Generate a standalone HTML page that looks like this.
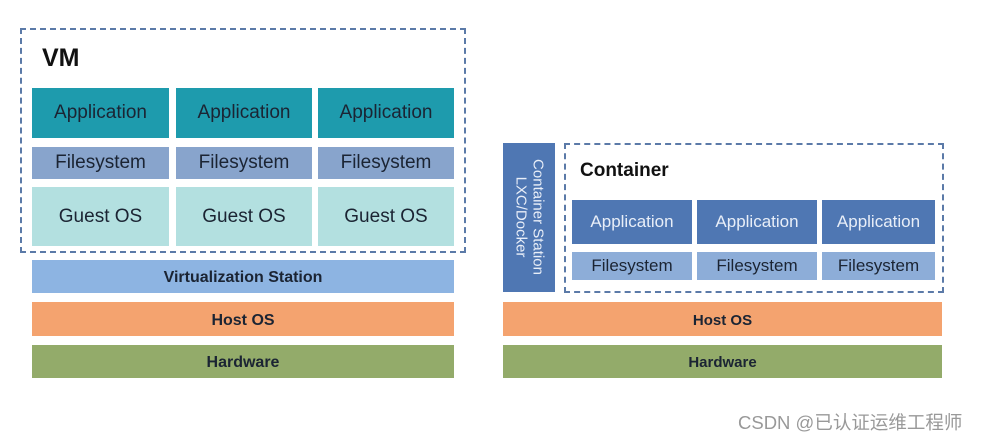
<!DOCTYPE html>
<html><head><meta charset="utf-8"><style>
body{margin:0;width:984px;height:439px;background:#fff;position:relative;overflow:hidden;font-family:"Liberation Sans","Noto Sans CJK SC",sans-serif}
.b{position:absolute;display:flex;align-items:center;justify-content:center;color:#1b2433;box-sizing:border-box}
.dash{position:absolute;border:2px dashed #5b7aa8;box-sizing:border-box}
.app{background:#1e9bad;font-size:19px}
.fs{background:#88a4cc;font-size:19px}
.g{background:#b3e0e0;font-size:19px}
.capp{background:#4f77b3;color:#e8eef8;font-size:17px}
.cfs{background:#8dadd8;font-size:17px}
.bold{font-weight:bold;font-size:16px}
</style></head><body>
<div class="dash" style="left:20px;top:28px;width:446px;height:225px"></div>
<div style="position:absolute;left:42px;top:44px;font-size:25px;font-weight:bold;color:#111">VM</div>
<div class="b app" style="left:32px;top:88px;width:137px;height:50px">Application</div>
<div class="b app" style="left:176px;top:88px;width:136px;height:50px">Application</div>
<div class="b app" style="left:318px;top:88px;width:136px;height:50px">Application</div>
<div class="b fs" style="left:32px;top:147px;width:137px;height:32px">Filesystem</div>
<div class="b fs" style="left:176px;top:147px;width:136px;height:32px">Filesystem</div>
<div class="b fs" style="left:318px;top:147px;width:136px;height:32px">Filesystem</div>
<div class="b g" style="left:32px;top:187px;width:137px;height:59px">Guest OS</div>
<div class="b g" style="left:176px;top:187px;width:136px;height:59px">Guest OS</div>
<div class="b g" style="left:318px;top:187px;width:136px;height:59px">Guest OS</div>
<div class="b bold" style="left:32px;top:260px;width:422px;height:33px;background:#8db4e2;padding-top:2px">Virtualization Station</div>
<div class="b bold" style="left:32px;top:302px;width:422px;height:34px;background:#f4a36f;padding-top:3px">Host OS</div>
<div class="b bold" style="left:32px;top:345px;width:422px;height:33px;background:#93ab6a;padding-top:2px">Hardware</div>

<div class="b" style="left:503px;top:143px;width:52px;height:149px;background:#4f77b3"></div>
<div style="position:absolute;left:529px;top:217px;width:149px;height:52px;margin-left:-74.5px;margin-top:-26px;transform:rotate(90deg);color:#e8eef8;font-size:15px;line-height:17px;text-align:center;display:flex;flex-direction:column;justify-content:center">Container Station<br>LXC/Docker</div>
<div class="dash" style="left:564px;top:143px;width:380px;height:150px"></div>
<div style="position:absolute;left:580px;top:160px;font-size:19px;font-weight:bold;color:#111">Container</div>
<div class="b capp" style="left:572px;top:200px;width:120px;height:44px">Application</div>
<div class="b capp" style="left:697px;top:200px;width:120px;height:44px">Application</div>
<div class="b capp" style="left:822px;top:200px;width:113px;height:44px">Application</div>
<div class="b cfs" style="left:572px;top:252px;width:120px;height:28px">Filesystem</div>
<div class="b cfs" style="left:697px;top:252px;width:120px;height:28px">Filesystem</div>
<div class="b cfs" style="left:822px;top:252px;width:113px;height:28px">Filesystem</div>
<div class="b bold" style="left:503px;top:302px;width:439px;height:34px;background:#f4a36f;font-size:15px;padding-top:2px">Host OS</div>
<div class="b bold" style="left:503px;top:345px;width:439px;height:33px;background:#93ab6a;font-size:15px;padding-top:2px">Hardware</div>

<div style="position:absolute;left:738px;top:409px;font-size:18.5px;color:#999">CSDN @已认证运维工程师</div>
</body></html>
